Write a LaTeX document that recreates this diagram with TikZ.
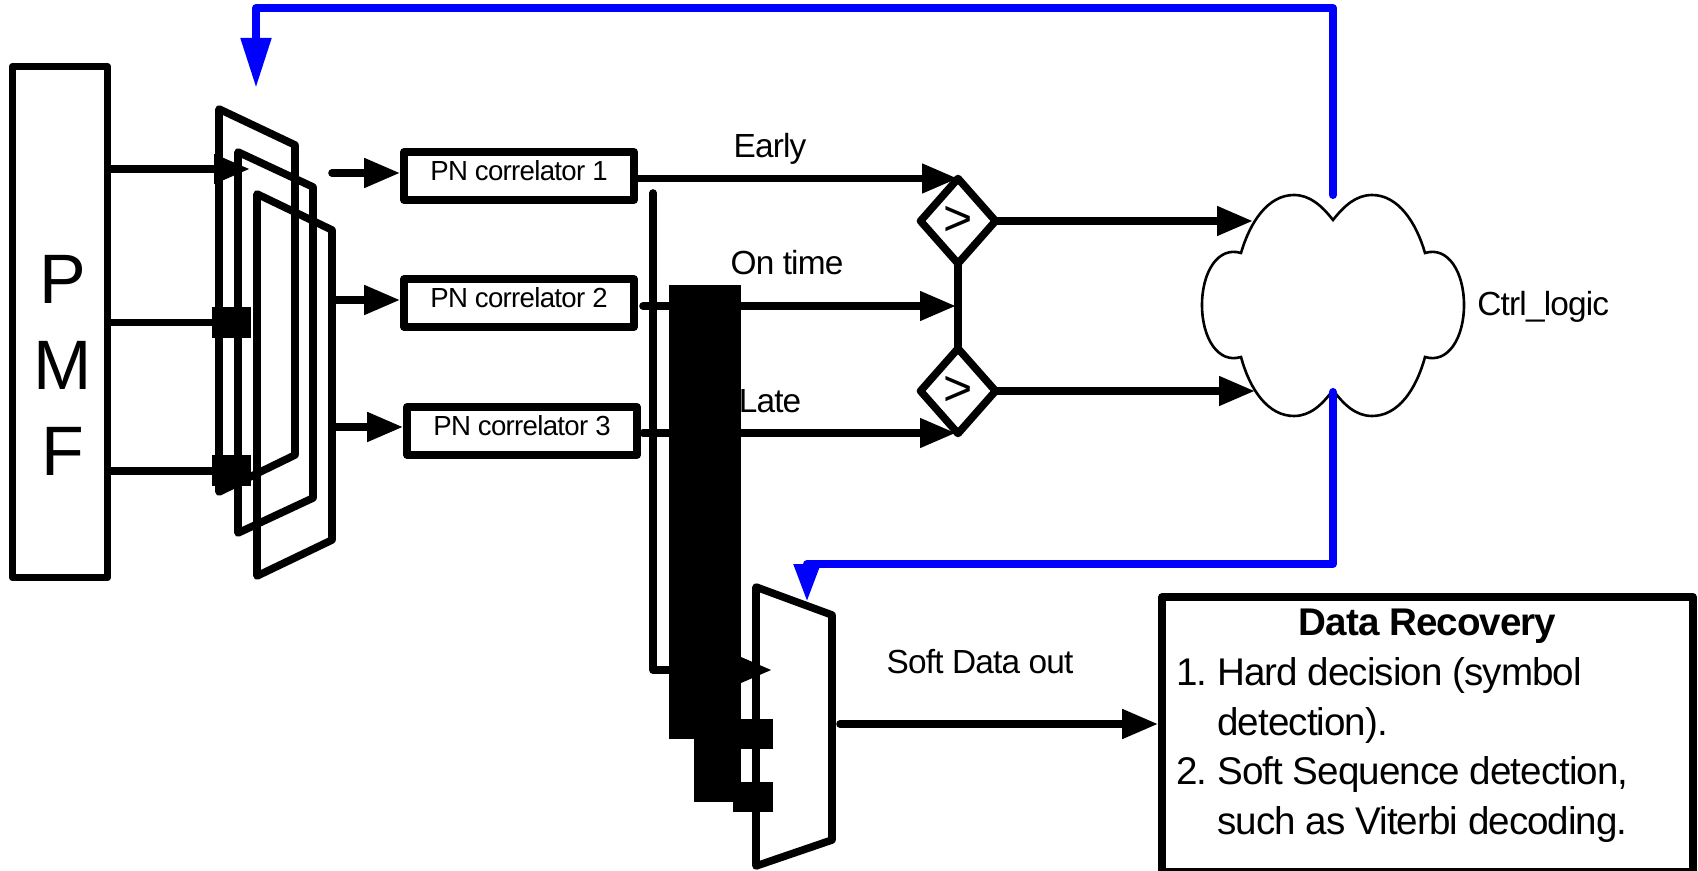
\documentclass[tikz,border=0pt]{standalone}
\usepackage{fontspec}
\setmainfont[LetterSpace=-2.5]{Liberation Sans}
\usepackage{xcolor}
\usetikzlibrary{shapes.geometric, arrows.meta, positioning}
\definecolor{ctrlblue}{RGB}{0,0,255}

\begin{document}
\begin{tikzpicture}[
  x=0.5pt, y=-0.5pt,
  heavy/.style={line width=3.8pt, line join=round},
  sig/.style={heavy, line cap=round, -{Triangle[length=18pt, width=14pt]}},
  wire/.style={heavy, line cap=round},
  ctrl/.style={line width=4pt, line join=round, line cap=round, color=ctrlblue},
  box/.style={rectangle, draw, heavy, align=center, inner sep=0pt},
  pn/.style={box, minimum width=115pt, minimum height=24pt, text depth=5.4pt, font=\fontsize{13.8}{16}\selectfont},
  cmp/.style={diamond, draw, heavy, minimum width=37.5pt, minimum height=42.5pt, inner sep=0pt, outer sep=0pt, font=\fontsize{25}{27}\selectfont},
  blk/.style={rectangle, fill=black, inner sep=0pt, outer sep=0pt},
  sq/.style={blk, minimum width=19.5pt, minimum height=15.5pt},
  lbl/.style={inner sep=0pt, font=\fontsize{16.7}{18}\selectfont}
]
\useasboundingbox (0,0) rectangle (1698,871);

% matched filter
\node[box, minimum width=47.5pt, minimum height=255.5pt] (pmf) at (60, 322) {};
\node[inner sep=0pt, align=center, font=\fontsize{35}{43}\selectfont] (pmflbl) at (63, 365) {P\\M\\F};

% first mux stack
\draw[heavy] (219,109) -- (295,145) -- (295,455) -- (219,492) -- cycle;
\draw[heavy] (238,152) -- (313,187) -- (313,498) -- (238,533) -- cycle;
\draw[heavy] (257,194) -- (332,230) -- (332,540) -- (257,576) -- cycle;
\coordinate (muxa) at (250, 169);
\node[sq] (sqa) at (231.5, 322.5) {};
\node[sq] (sqb) at (231.5, 471) {};
\draw[sig] (pmf.east |- muxa) -- (muxa);
\draw[wire] (pmf.east |- sqa) -- (sqa);
\draw[wire] (pmf.east |- sqb) -- (sqb);

% correlators
\node[pn] (pna) at (519, 176) {PN correlator 1};
\node[pn] (pnb) at (519, 303) {PN correlator 2};
\node[pn] (pnc) at (522, 431) {PN correlator 3};
\coordinate (outa) at (332, 173);
\coordinate (outb) at (332, 300);
\coordinate (outc) at (332, 427);
\draw[sig] (outa) -- (outa -| pna.west);
\draw[sig] (outb) -- (outb -| pnb.west);
\draw[sig] (outc) -- (outc -| pnc.west);

% comparators
\node[cmp] (cmpa) at (958, 221) {>};
\node[cmp] (cmpb) at (958, 391) {>};
\draw[heavy] (cmpa.south) -- (cmpb.north);
\coordinate (ontime) at (643, 306);
\coordinate (late) at (643, 433);
\draw[sig] (pna.east |- cmpa.north) -- (cmpa.north);
\draw[sig] (ontime) -- ([xshift=-1pt]ontime -| cmpa.south);
\draw[sig] (late) -- ([xshift=-1pt]late -| cmpb.south);
\node[lbl] (earlylbl) at (770, 149) {Early};
\node[lbl] (ontimelbl) at (787, 263) {On time};
\node[lbl] (latelbl) at (770, 401) {Late};

% second mux and its inputs
\coordinate (tap) at (653, 193);
\coordinate (muxb) at (772, 670);
\draw[sig] (tap) |- (muxb);
\node[blk, minimum width=36pt, minimum height=227pt] (blka) at (705, 512) {};
\node[blk, minimum width=23.5pt, minimum height=31.5pt] (blkb) at (717.5, 770.5) {};
\draw[heavy] (756,587) -- (832,615) -- (832,840) -- (756,866) -- cycle;
\node[sq, minimum width=20pt, minimum height=15pt] (sqc) at (753, 734) {};
\node[sq, minimum width=20pt, minimum height=15pt] (sqd) at (753, 797) {};

% control logic
\draw[line width=1.3pt] (1333,220) .. controls (1344,206) and (1356,195) .. (1372,195)
  .. controls (1398,195) and (1416,222) .. (1425,253)
  .. controls (1448,246) and (1464,272) .. (1464,305)
  .. controls (1464,338) and (1448,364) .. (1425,357)
  .. controls (1416,390) and (1398,416) .. (1372,416)
  .. controls (1356,416) and (1344,405) .. (1333,390)
  .. controls (1322,405) and (1310,416) .. (1294,416)
  .. controls (1268,416) and (1250,390) .. (1241,357)
  .. controls (1218,364) and (1202,338) .. (1202,305)
  .. controls (1202,272) and (1218,246) .. (1241,253)
  .. controls (1250,222) and (1268,195) .. (1294,195)
  .. controls (1310,195) and (1322,206) .. (1333,220) -- cycle;
\node[lbl, anchor=west] (ctrllbl) at (1477, 307) {Ctrl\_logic};
\coordinate (ctrla) at (1253, 221);
\coordinate (ctrlb) at (1255, 391);
\draw[sig] (cmpa.east) -- (ctrla);
\draw[sig] (cmpb.east) -- (ctrlb);

% feedback
\coordinate (ctrltop) at (1333, 195);
\coordinate (ctrlbot) at (1333, 392);
\coordinate (selb) at (807, 602);
\coordinate (sela) at (256, 88);
\draw[ctrl, -{Triangle[length=25pt, width=14.5pt]}] (ctrltop) -- (1333,8) -- (256,8) -- (sela);
\draw[ctrl, -{Triangle[length=19pt, width=12.5pt]}] (ctrlbot) -- (1333,564) -- (807,564) -- (selb);

% data recovery
\node[box, minimum width=265.5pt, minimum height=137.5pt] (data) at (1427.5, 734.5) {};
\node[font=\bfseries\fontsize{19.3}{20}\selectfont, inner sep=0pt] (datattl) at (1427.5, 626) {Data Recovery};
\node[anchor=west, inner sep=0pt, align=left, font=\fontsize{19.3}{24.75}\selectfont] (datalst) at (1176, 750)
  {\makebox[20.5pt][l]{1.}Hard decision (symbol\\\hspace*{20.5pt}detection).\\\makebox[20.5pt][l]{2.}Soft Sequence detection,\\\hspace*{20.5pt}such as Viterbi decoding.};
\coordinate (dataout) at (840, 724);
\node[lbl] (softlbl) at (980, 662) {Soft Data out};
\draw[sig] (dataout) -- (dataout -| data.west);
\end{tikzpicture}
\end{document}
